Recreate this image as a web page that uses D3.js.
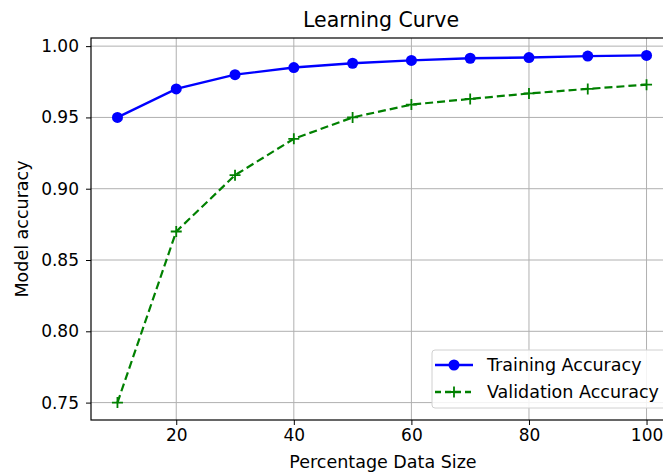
<!DOCTYPE html>
<html>
<head>
<meta charset="utf-8">
<script src="https://cdn.jsdelivr.net/npm/d3@7"></script>
<style>
  body { margin: 0; background: #fff; }
  svg { display: block; font-family: "DejaVu Sans", sans-serif; }
</style>
</head>
<body>
<script>
// data
const sizes = [10, 20, 30, 40, 50, 60, 70, 80, 90, 100];
const trainAcc = [0.950, 0.970, 0.980, 0.985, 0.988, 0.990, 0.9915, 0.992, 0.993, 0.9935];
const valAcc = [0.750, 0.870, 0.9095, 0.935, 0.950, 0.959, 0.963, 0.9668, 0.970, 0.973];
const xTicks = [20, 40, 60, 80, 100];
const yTicks = [0.75, 0.80, 0.85, 0.90, 0.95, 1.00];

const width = 663, height = 472,
    margin = { top: 38, right: -10, bottom: 52, left: 91 };

const svg = d3.select("body").append("svg")
    .attr("width", width)
    .attr("height", height);

const x = d3.scaleLinear()
    .domain([5.5, 104.5])
    .range([margin.left, width - margin.right]);

const y = d3.scaleLinear()
    .domain([0.7378, 1.0057])
    .range([height - margin.bottom, margin.top]);

// grid
svg.append("g")
    .selectAll("line")
    .data(xTicks)
    .join("line")
    .attr("x1", d => x(d)).attr("x2", d => x(d))
    .attr("y1", margin.top).attr("y2", height - margin.bottom)
    .attr("stroke", "#b0b0b0").attr("stroke-width", 1);

svg.append("g")
    .selectAll("line")
    .data(yTicks)
    .join("line")
    .attr("x1", margin.left).attr("x2", width - margin.right)
    .attr("y1", d => y(d)).attr("y2", d => y(d))
    .attr("stroke", "#b0b0b0").attr("stroke-width", 1);

// axes
const xAxis = g => g
    .attr("transform", `translate(0,${height - margin.bottom})`)
    .call(d3.axisBottom(x).tickValues(xTicks).tickSize(5).tickPadding(4).tickFormat(d3.format("d")))
    .call(g => g.select(".domain").remove())
    .call(g => g.selectAll(".tick text").attr("font-size", 17).attr("fill", "#000")
        .attr("font-family", "DejaVu Sans"));

const yAxis = g => g
    .attr("transform", `translate(${margin.left},0)`)
    .call(d3.axisLeft(y).tickValues(yTicks).tickSize(5).tickPadding(7).tickFormat(d3.format(".2f")))
    .call(g => g.select(".domain").remove())
    .call(g => g.selectAll(".tick text").attr("font-size", 17).attr("fill", "#000")
        .attr("font-family", "DejaVu Sans"));

svg.append("g").call(xAxis);
svg.append("g").call(yAxis);

// spines
svg.append("rect")
    .attr("x", margin.left).attr("y", margin.top)
    .attr("width", width - margin.right - margin.left)
    .attr("height", height - margin.bottom - margin.top)
    .attr("fill", "none").attr("stroke", "#000").attr("stroke-width", 1.2);

// lines
const train = sizes.map((s, i) => ({ x: s, y: trainAcc[i] }));
const val = sizes.map((s, i) => ({ x: s, y: valAcc[i] }));

const line = d3.line().x(d => x(d.x)).y(d => y(d.y));

svg.append("path")
    .datum(train)
    .attr("d", line)
    .attr("fill", "none")
    .attr("stroke", "#0000ff")
    .attr("stroke-width", 2.4);

svg.append("g")
    .selectAll("circle")
    .data(train)
    .join("circle")
    .attr("cx", d => x(d.x))
    .attr("cy", d => y(d.y))
    .attr("r", 5.5)
    .attr("fill", "#0000ff");

svg.append("path")
    .datum(val)
    .attr("d", line)
    .attr("fill", "none")
    .attr("stroke", "#008000")
    .attr("stroke-width", 2.2)
    .attr("stroke-dasharray", "8,4");

svg.append("g")
    .selectAll("path")
    .data(val)
    .join("path")
    .attr("transform", d => `translate(${x(d.x)},${y(d.y)})`)
    .attr("d", "M-5.5,0H5.5M0,-5.5V5.5")
    .attr("stroke", "#008000")
    .attr("stroke-width", 1.8);

// title and labels
svg.append("text")
    .attr("x", 381).attr("y", 27)
    .attr("text-anchor", "middle")
    .attr("font-size", 20.5)
    .text("Learning Curve");

svg.append("text")
    .attr("x", 383).attr("y", 468)
    .attr("text-anchor", "middle")
    .attr("font-size", 17.5)
    .text("Percentage Data Size");

svg.append("text")
    .attr("transform", `translate(28,${(margin.top + height - margin.bottom) / 2}) rotate(-90)`)
    .attr("text-anchor", "middle")
    .attr("font-size", 17.5)
    .text("Model accuracy");

// legend
const legend = svg.append("g").attr("transform", "translate(432,350)");
legend.append("rect")
    .attr("width", 260).attr("height", 58)
    .attr("rx", 3)
    .attr("fill", "#fff").attr("fill-opacity", 0.85)
    .attr("stroke", "#d0d0d0");

const items = [
    { label: "Training Accuracy", color: "#0000ff", dash: null, mark: "circle" },
    { label: "Validation Accuracy", color: "#008000", dash: "6,4", mark: "plus" }
];
items.forEach((it, i) => {
    const gy = 15 + i * 27;
    legend.append("line")
        .attr("x1", 3).attr("x2", 41).attr("y1", gy).attr("y2", gy)
        .attr("stroke", it.color).attr("stroke-width", 2.4)
        .attr("stroke-dasharray", it.dash);
    if (it.mark === "circle") {
        legend.append("circle").attr("cx", 22).attr("cy", gy).attr("r", 5.5).attr("fill", it.color);
    } else {
        legend.append("path").attr("transform", `translate(22,${gy})`)
            .attr("d", "M-5.5,0H5.5M0,-5.5V5.5").attr("stroke", it.color).attr("stroke-width", 1.8);
    }
    legend.append("text")
        .attr("x", 55).attr("y", gy + 6)
        .attr("font-size", 17.5)
        .text(it.label);
});
</script>
</body>
</html>
